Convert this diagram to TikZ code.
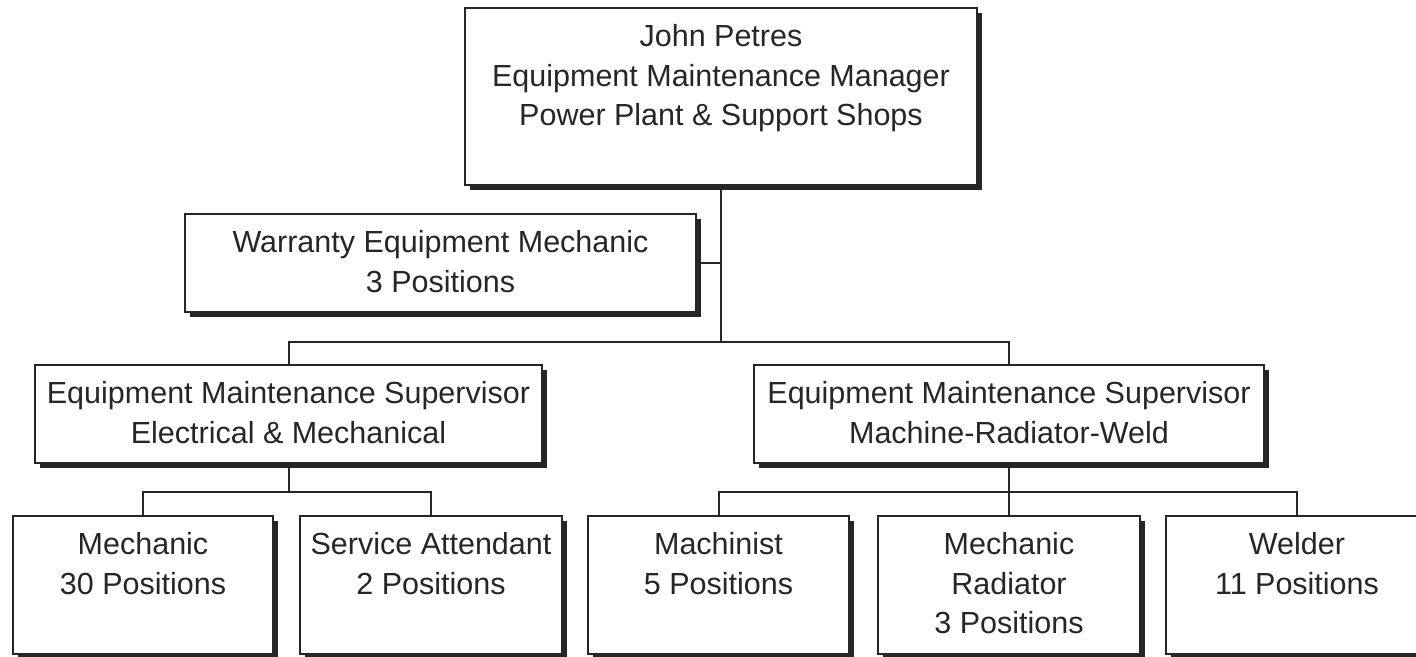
\documentclass[tikz,border=0pt]{standalone}
\usepackage{fontspec}
\setmainfont{Liberation Sans}
\usetikzlibrary{shadows}
\definecolor{ink}{RGB}{38,38,38}
\tikzset{
  orgbox/.style={draw=ink, line width=2pt, fill=white, inner sep=0pt,
    drop shadow={shadow xshift=5pt, shadow yshift=-5pt, fill=ink, opacity=1}},
  lbl/.style={anchor=north, inner sep=0pt, align=center, text=ink,
    font=\fontsize{30.5}{39.5}\selectfont},
  conn/.style={draw=ink, line width=2pt}
}
\newcommand{\fl}{\rule{0pt}{39.5pt}}
\begin{document}
\begin{tikzpicture}[x=1pt,y=-1pt]
\useasboundingbox (0,0) rectangle (1416,656);
\clip (0,0) rectangle (1416,656);
% boxes
\node[orgbox, minimum width=512pt, minimum height=177pt] (top) at (721,96.5) {};
\node[orgbox, minimum width=511pt, minimum height=98pt] (warr) at (440.5,263) {};
\node[orgbox, minimum width=507pt, minimum height=98pt] (supL) at (288.5,414) {};
\node[orgbox, minimum width=510pt, minimum height=98pt] (supR) at (1009,414) {};
\node[orgbox, minimum width=260pt, minimum height=138pt] (mech) at (143,585) {};
\node[orgbox, minimum width=262pt, minimum height=138pt] (serv) at (431,585) {};
\node[orgbox, minimum width=261pt, minimum height=138pt] (mach) at (718.5,585) {};
\node[orgbox, minimum width=262pt, minimum height=138pt] (mrad) at (1009,585) {};
\node[orgbox, minimum width=262pt, minimum height=138pt] (weld) at (1297,585) {};
% junctions
\coordinate (j1) at (721,342);
\coordinate (j2) at (288.5,492);
\coordinate (j3) at (1009,492);
% connectors
\draw[conn] (top.south) -- (j1);
\draw[conn] (warr.east) -- (warr.east -| j1);
\draw[conn] (supL.north) |- (j1) -| (supR.north);
\draw[conn] (supL.south) -- (j2);
\draw[conn] (mech.north) |- (j2) -| (serv.north);
\draw[conn] (supR.south) -- (mrad.north);
\draw[conn] (mach.north) |- (j3) -| (weld.north);
% texts
\node[lbl] (ttop) at (top.north) {\fl John Petres\\Equipment Maintenance Manager\\Power Plant \& Support Shops};
\node[lbl] (twarr) at (warr.north) {\fl Warranty Equipment Mechanic\\3 Positions};
\node[lbl] (tsupL) at (supL.north) {\fl Equipment Maintenance Supervisor\\Electrical \& Mechanical};
\node[lbl] (tsupR) at (supR.north) {\fl Equipment Maintenance Supervisor\\Machine-Radiator-Weld};
\node[lbl] (tmech) at (mech.north) {\fl Mechanic\\30 Positions};
\node[lbl] (tserv) at (serv.north) {\fl Service Attendant\\2 Positions};
\node[lbl] (tmach) at (mach.north) {\fl Machinist\\5 Positions};
\node[lbl] (tmrad) at (mrad.north) {\fl Mechanic\\Radiator\\3 Positions};
\node[lbl] (tweld) at (weld.north) {\fl Welder\\11 Positions};
\end{tikzpicture}
\end{document}
